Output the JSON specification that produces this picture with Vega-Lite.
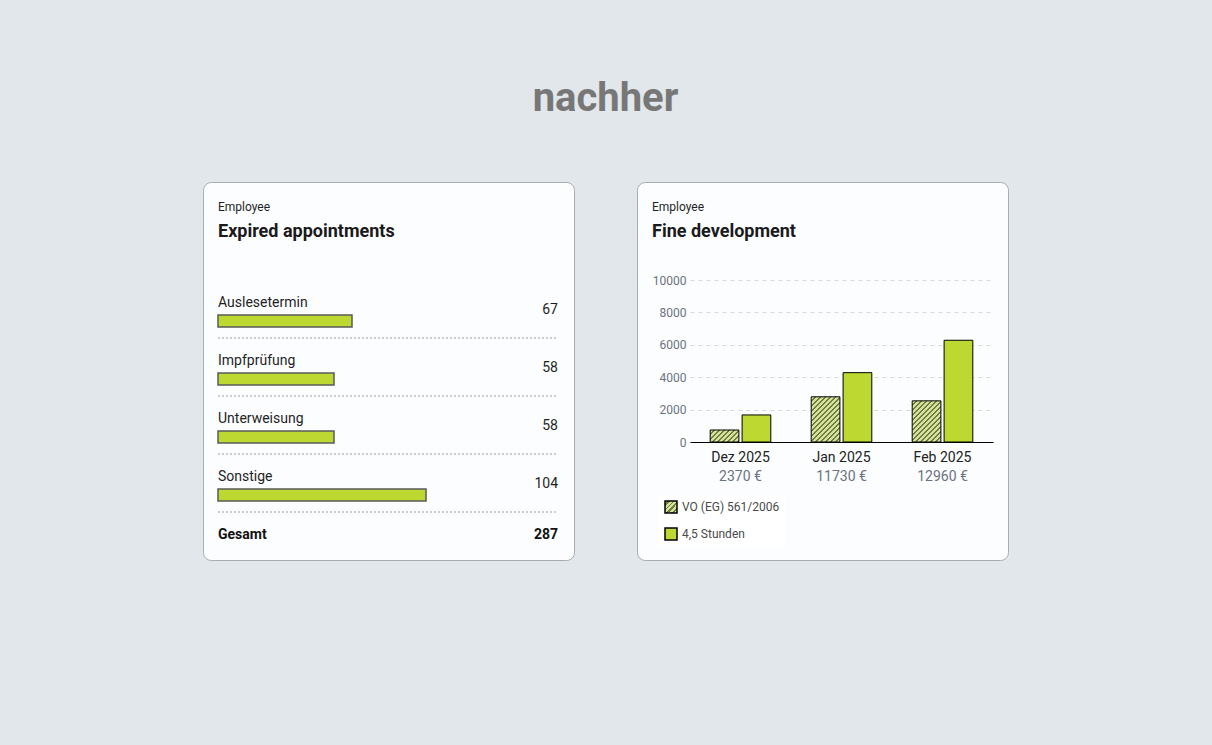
{
  "$schema": "https://vega.github.io/schema/vega-lite/v6.json",
  "background": "#e1e7ea",
  "padding": {"top": 78, "left": 202, "right": 203, "bottom": 184},
  "title": {
    "text": "nachher",
    "fontSize": 40,
    "fontWeight": "bold",
    "color": "#777777",
    "anchor": "middle",
    "offset": 63
  },
  "params": [
    {
      "name": "hatchStops",
      "value": [
        {"offset": 0, "color": "#d5e29b"}, {"offset": 0.04, "color": "#d5e29b"}, {"offset": 0.04, "color": "#6f7c42"}, {"offset": 0.066667, "color": "#6f7c42"},
        {"offset": 0.066667, "color": "#d5e29b"}, {"offset": 0.106667, "color": "#d5e29b"}, {"offset": 0.106667, "color": "#6f7c42"}, {"offset": 0.133333, "color": "#6f7c42"},
        {"offset": 0.133333, "color": "#d5e29b"}, {"offset": 0.173333, "color": "#d5e29b"}, {"offset": 0.173333, "color": "#6f7c42"}, {"offset": 0.2, "color": "#6f7c42"},
        {"offset": 0.2, "color": "#d5e29b"}, {"offset": 0.24, "color": "#d5e29b"}, {"offset": 0.24, "color": "#6f7c42"}, {"offset": 0.266667, "color": "#6f7c42"},
        {"offset": 0.266667, "color": "#d5e29b"}, {"offset": 0.306667, "color": "#d5e29b"}, {"offset": 0.306667, "color": "#6f7c42"}, {"offset": 0.333333, "color": "#6f7c42"},
        {"offset": 0.333333, "color": "#d5e29b"}, {"offset": 0.373333, "color": "#d5e29b"}, {"offset": 0.373333, "color": "#6f7c42"}, {"offset": 0.4, "color": "#6f7c42"},
        {"offset": 0.4, "color": "#d5e29b"}, {"offset": 0.44, "color": "#d5e29b"}, {"offset": 0.44, "color": "#6f7c42"}, {"offset": 0.466667, "color": "#6f7c42"},
        {"offset": 0.466667, "color": "#d5e29b"}, {"offset": 0.506667, "color": "#d5e29b"}, {"offset": 0.506667, "color": "#6f7c42"}, {"offset": 0.533333, "color": "#6f7c42"},
        {"offset": 0.533333, "color": "#d5e29b"}, {"offset": 0.573333, "color": "#d5e29b"}, {"offset": 0.573333, "color": "#6f7c42"}, {"offset": 0.6, "color": "#6f7c42"},
        {"offset": 0.6, "color": "#d5e29b"}, {"offset": 0.64, "color": "#d5e29b"}, {"offset": 0.64, "color": "#6f7c42"}, {"offset": 0.666667, "color": "#6f7c42"},
        {"offset": 0.666667, "color": "#d5e29b"}, {"offset": 0.706667, "color": "#d5e29b"}, {"offset": 0.706667, "color": "#6f7c42"}, {"offset": 0.733333, "color": "#6f7c42"},
        {"offset": 0.733333, "color": "#d5e29b"}, {"offset": 0.773333, "color": "#d5e29b"}, {"offset": 0.773333, "color": "#6f7c42"}, {"offset": 0.8, "color": "#6f7c42"},
        {"offset": 0.8, "color": "#d5e29b"}, {"offset": 0.84, "color": "#d5e29b"}, {"offset": 0.84, "color": "#6f7c42"}, {"offset": 0.866667, "color": "#6f7c42"},
        {"offset": 0.866667, "color": "#d5e29b"}, {"offset": 0.906667, "color": "#d5e29b"}, {"offset": 0.906667, "color": "#6f7c42"}, {"offset": 0.933333, "color": "#6f7c42"},
        {"offset": 0.933333, "color": "#d5e29b"}, {"offset": 0.973333, "color": "#d5e29b"}, {"offset": 0.973333, "color": "#6f7c42"}, {"offset": 1, "color": "#6f7c42"}
      ]
    }
  ],
  "datasets": {
    "appointments": [
      {"cat": "Auslesetermin", "n": 67, "kind": "item"},
      {"cat": "Impfprüfung", "n": 58, "kind": "item"},
      {"cat": "Unterweisung", "n": 58, "kind": "item"},
      {"cat": "Sonstige", "n": 104, "kind": "item"},
      {"cat": "Gesamt", "n": 287, "kind": "total"}
    ],
    "fines": [
      {"month": "Dez 2025", "series": "VO (EG) 561/2006", "v": 740},
      {"month": "Dez 2025", "series": "4,5 Stunden", "v": 1670},
      {"month": "Jan 2025", "series": "VO (EG) 561/2006", "v": 2790},
      {"month": "Jan 2025", "series": "4,5 Stunden", "v": 4280},
      {"month": "Feb 2025", "series": "VO (EG) 561/2006", "v": 2540},
      {"month": "Feb 2025", "series": "4,5 Stunden", "v": 6280}
    ],
    "totals": [
      {"month": "Dez 2025", "total": 2370},
      {"month": "Jan 2025", "total": 11730},
      {"month": "Feb 2025", "total": 12960}
    ]
  },
  "config": {
    "font": "Roboto",
    "view": {"fill": "#fcfdfe", "stroke": "#a5adb4", "strokeWidth": 1, "cornerRadius": 8}
  },
  "spacing": 61,
  "hconcat": [
    {
      "width": 371,
      "height": 378,
      "title": {
        "text": "Employee",
        "subtitle": "Expired appointments",
        "anchor": "start",
        "frame": "group",
        "dx": 15,
        "offset": -60,
        "fontSize": 12,
        "fontWeight": "normal",
        "color": "#1f1f1f",
        "subtitleFontSize": 18,
        "subtitleFontWeight": "bold",
        "subtitleColor": "#1a1a1a",
        "subtitlePadding": 9
      },
      "data": {"name": "appointments"},
      "encoding": {
        "y": {
          "field": "cat",
          "type": "nominal",
          "scale": {"type": "point", "domain": ["Auslesetermin", "Impfprüfung", "Unterweisung", "Sonstige", "Gesamt"], "range": [128, 360], "padding": 0},
          "axis": null
        }
      },
      "layer": [
        {
          "transform": [{"filter": "datum.kind === 'item'"}],
          "mark": {"type": "text", "align": "left", "baseline": "middle", "fontSize": 14, "color": "#1f1f1f", "yOffset": -7},
          "encoding": {
            "x": {"datum": 0, "type": "quantitative", "scale": {"domain": [0, 170], "range": [15, 355], "nice": false, "zero": false}, "axis": null},
            "text": {"field": "cat"}
          }
        },
        {
          "transform": [{"filter": "datum.kind === 'item'"}],
          "mark": {"type": "bar", "height": 12, "yOffset": 11, "fill": "#bdd831", "stroke": "#595959", "strokeWidth": 1.5},
          "encoding": {
            "x": {"field": "n", "type": "quantitative"}
          }
        },
        {
          "transform": [{"filter": "datum.kind === 'item'"}],
          "mark": {"type": "text", "align": "right", "baseline": "middle", "fontSize": 14, "color": "#1f1f1f"},
          "encoding": {
            "x": {"datum": 170, "type": "quantitative"},
            "text": {"field": "n"}
          }
        },
        {
          "transform": [{"filter": "datum.kind === 'item'"}],
          "mark": {"type": "rule", "yOffset": 28, "strokeDash": [2, 2], "color": "#9d9d9d", "strokeWidth": 1},
          "encoding": {
            "x": {"datum": 0, "type": "quantitative"},
            "x2": {"datum": 170}
          }
        },
        {
          "transform": [{"filter": "datum.kind === 'total'"}],
          "mark": {"type": "text", "align": "left", "baseline": "middle", "fontSize": 14, "fontWeight": "bold", "color": "#111111", "yOffset": -7},
          "encoding": {
            "x": {"datum": 0, "type": "quantitative"},
            "text": {"field": "cat"}
          }
        },
        {
          "transform": [{"filter": "datum.kind === 'total'"}],
          "mark": {"type": "text", "align": "right", "baseline": "middle", "fontSize": 14, "fontWeight": "bold", "color": "#111111", "yOffset": -7},
          "encoding": {
            "x": {"datum": 170, "type": "quantitative"},
            "text": {"field": "n"}
          }
        }
      ]
    },
    {
      "width": 371,
      "height": 378,
      "title": {
        "text": "Employee",
        "subtitle": "Fine development",
        "anchor": "start",
        "frame": "group",
        "dx": 15,
        "offset": -60,
        "fontSize": 12,
        "fontWeight": "normal",
        "color": "#1f1f1f",
        "subtitleFontSize": 18,
        "subtitleFontWeight": "bold",
        "subtitleColor": "#1a1a1a",
        "subtitlePadding": 9
      },
      "layer": [
        {
          "data": {"name": "fines"},
          "mark": {
            "type": "bar",
            "stroke": "#000000",
            "strokeWidth": 1,
            "fill": {"expr": "(datum.series === 'VO (EG) 561/2006' || datum.value === 'VO (EG) 561/2006' || datum.label === 'VO (EG) 561/2006' || (datum.series == null && datum.index === 0)) ? {gradient: 'linear', x1: 0, y1: 0, x2: isValid(datum.v) ? 75 * 28.7 / (28.7 * 28.7 + pow(datum.v * 0.0162, 2)) : 3.125, y2: isValid(datum.v) ? 75 * datum.v * 0.0162 / (28.7 * 28.7 + pow(datum.v * 0.0162, 2)) : 3.125, stops: hatchStops} : '#bdd831'"}
          },
          "encoding": {
            "x": {
              "field": "month",
              "type": "nominal",
              "sort": null,
              "scale": {"domain": ["Dez 2025", "Jan 2025", "Feb 2025"], "range": [53, 356], "paddingInner": 0.4, "paddingOuter": 0.2},
              "axis": {"title": null, "orient": "bottom", "offset": -118, "domainColor": "#000000", "domainWidth": 1, "ticks": false, "labelPadding": 8, "labelFontSize": 14, "labelColor": "#222222", "labelAngle": 0, "grid": false}
            },
            "xOffset": {
              "field": "series",
              "type": "nominal",
              "scale": {"domain": ["VO (EG) 561/2006", "4,5 Stunden"], "paddingInner": 0.1}
            },
            "y": {
              "field": "v",
              "type": "quantitative",
              "stack": null,
              "scale": {"domain": [0, 10000], "range": [260, 98], "nice": false},
              "axis": {"title": null, "offset": -53, "values": [0, 2000, 4000, 6000, 8000, 10000], "format": "d", "domain": false, "ticks": false, "labelPadding": 4, "labelFontSize": 12, "labelColor": "#6b7280", "grid": true, "gridColor": "#d6dadd", "gridDash": [4, 4]}
            },
            "opacity": {
              "field": "series",
              "type": "nominal",
              "scale": {"type": "ordinal", "domain": ["VO (EG) 561/2006", "4,5 Stunden"], "range": [1, 1]},
              "legend": {
                "title": null,
                "orient": "none",
                "legendX": 456,
                "legendY": 313,
                "direction": "vertical",
                "symbolType": "square",
                "symbolSize": 144,
                "labelFontSize": 12,
                "labelColor": "#4a4a4a",
                "labelOffset": 4,
                "rowPadding": 9,
                "padding": 5,
                "fillColor": "#ffffff",
                "encode": {
                  "symbols": {
                    "fill": {"value": {"expr": "(datum.value === 'VO (EG) 561/2006' || datum.label === 'VO (EG) 561/2006' || datum.index === 0) ? {gradient: 'linear', x1: 0, y1: 0, x2: 3.125, y2: 3.125, stops: hatchStops} : '#bdd831'"}},
                    "fillOpacity": {"value": 1},
                    "stroke": {"value": "#000000"},
                    "strokeWidth": {"value": 1}
                  }
                }
              }
            }
          }
        },
        {
          "data": {"name": "totals"},
          "transform": [{"calculate": "datum.total + ' €'", "as": "label"}],
          "mark": {"type": "text", "dy": 35, "baseline": "middle", "fontSize": 14, "color": "#6b7280"},
          "encoding": {
            "x": {"field": "month", "type": "nominal", "sort": null},
            "y": {"datum": 0, "type": "quantitative"},
            "text": {"field": "label"}
          }
        }
      ]
    }
  ]
}
